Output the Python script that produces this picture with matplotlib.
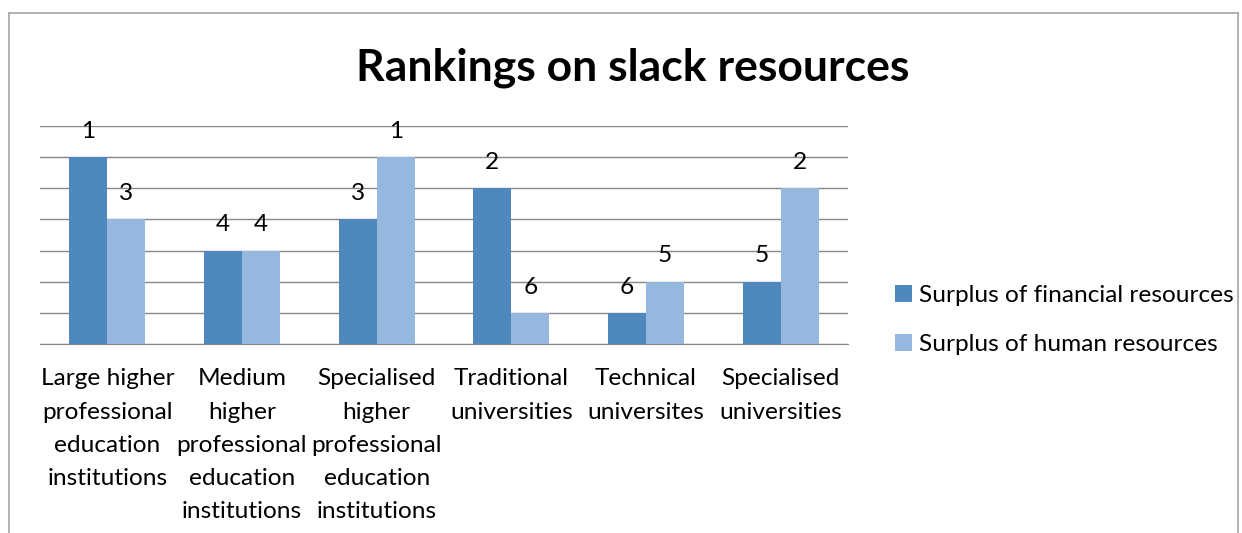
import matplotlib.pyplot as plt
import numpy as np

categories = ['Large higher\nprofessional\neducation\ninstitutions',
              'Medium\nhigher\nprofessional\neducation\ninstitutions',
              'Specialised\nhigher\nprofessional\neducation\ninstitutions',
              'Traditional\nuniversities',
              'Technical\nuniversites',
              'Specialised\nuniversities']
financial_rank = [1, 4, 3, 2, 6, 5]
human_rank = [3, 4, 1, 6, 5, 2]
series_names = ['Surplus of financial resources', 'Surplus of human resources']
colors = ['#4f88bc', '#97b8de']

plt.rcParams['font.family'] = ['Lato', 'DejaVu Sans']
fs = 17.6

W, H = 1242, 533
fig = plt.figure(figsize=(W / 100, H / 100), dpi=100)
ax = fig.add_axes([40 / W, 1 - 344 / H, 808 / W, 218 / H])

# bar height = 7 - rank so that rank 1 is the tallest
x = np.arange(len(categories))
w = 0.283
for i, (ranks, c) in enumerate(zip([financial_rank, human_rank], colors)):
    heights = [7 - r for r in ranks]
    pos = x + (i - 0.5) * w
    ax.bar(pos, heights, width=w, color=c, label=series_names[i], zorder=3)
    for px, h, r in zip(pos, heights, ranks):
        ax.annotate(str(r), (px, h), xytext=(0, 11), textcoords='offset points',
                    ha='center', va='bottom', fontsize=fs, zorder=4)

ax.set_xlim(-0.5, len(categories) - 0.5)
ax.set_ylim(0, 7)
ax.set_yticks(range(8))
ax.set_yticklabels([])
ax.tick_params(axis='y', length=0)
ax.grid(axis='y', color='#878787', linewidth=1, zorder=0)
ax.set_xticks(x)
ax.set_xticklabels(categories, fontsize=fs, linespacing=1.72, va='top')
ax.tick_params(axis='x', length=0, pad=17.5)
for s in ['top', 'right', 'left']:
    ax.spines[s].set_visible(False)
ax.spines['bottom'].set_color('#878787')

fig.text(633 / W, 1 - 68 / H, 'Rankings on slack resources', ha='center', va='center',
         fontsize=32, fontweight='bold')

ax.legend(loc='center left', bbox_to_anchor=(885 / W, 1 - 320 / H), bbox_transform=fig.transFigure,
          frameon=False, fontsize=fs, handlelength=0.7, handleheight=0.7,
          handletextpad=0.3, labelspacing=1.15, borderaxespad=0)

# chart frame (cut off at the bottom)
fc = '#a6a6a6'
fig.add_artist(plt.Line2D([9 / W, 9 / W], [0, 1 - 13 / H], transform=fig.transFigure, color=fc, lw=1.2))
fig.add_artist(plt.Line2D([9 / W, 1238 / W], [1 - 13 / H, 1 - 13 / H], transform=fig.transFigure, color=fc, lw=1.2))
fig.add_artist(plt.Line2D([1238 / W, 1238 / W], [0, 1 - 13 / H], transform=fig.transFigure, color=fc, lw=1.2))

fig.savefig('out.png', dpi=100)
